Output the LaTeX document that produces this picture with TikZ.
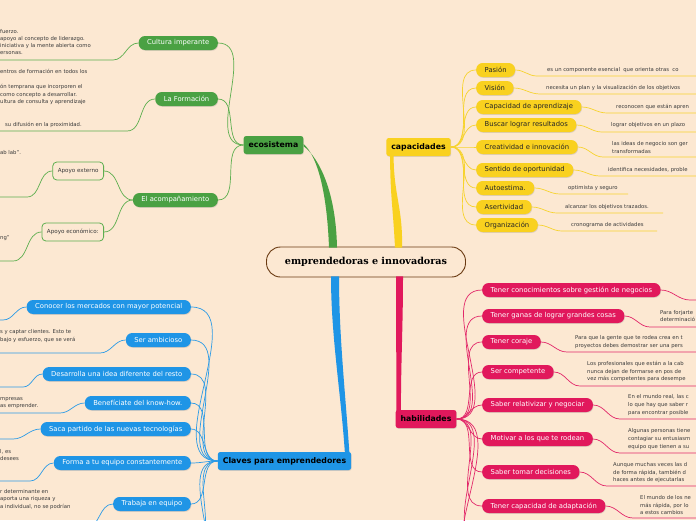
\documentclass[tikz,border=0pt]{standalone}
\usepackage{fontspec}
\setmainfont{DejaVu Sans}
\newfontfamily\rootfont{DejaVu Serif}
\usetikzlibrary{calc,shadows}

\definecolor{bgcol}{HTML}{FCE8D2}
\definecolor{ecogreen}{HTML}{4AA143}
\definecolor{ecoline}{HTML}{5DAE4F}
\definecolor{capyellow}{HTML}{F9D11F}
\definecolor{capline}{HTML}{F7D32E}
\definecolor{clavblue}{HTML}{1F95E6}
\definecolor{clavline}{HTML}{2C9BE6}
\definecolor{habpink}{HTML}{E1185C}
\definecolor{habline}{HTML}{E2286A}
\definecolor{rootbrown}{HTML}{6A3A12}
\definecolor{leaftext}{HTML}{3A3A3A}

\begin{document}
\begin{tikzpicture}[x=1pt, y=-1pt,
  lift/.style={drop shadow={shadow xshift=0.5pt, shadow yshift=-0.8pt, opacity=0.25}},
  rootbox/.style={draw=rootbrown, line width=0.9pt, rounded corners=14pt, fill=bgcol,
    minimum width=199pt, minimum height=30pt, font=\rootfont\bfseries\fontsize{9.6}{11}\selectfont},
  hub/.style={rounded corners=2.5pt, minimum height=18pt, inner xsep=5pt, inner ysep=0pt,
    font=\fontsize{7.8}{9}\selectfont\bfseries, text=black, lift},
  twig/.style={rounded corners=6.5pt, minimum height=14pt, inner xsep=8.5pt, inner ysep=0pt,
    font=\fontsize{6.8}{8}\selectfont, lift},
  ecotwig/.style={twig, fill=ecogreen, text=white, anchor=east},
  captwig/.style={twig, fill=capyellow, text=black!85, anchor=west},
  clavtwig/.style={twig, fill=clavblue, text=white, anchor=east},
  habtwig/.style={twig, fill=habpink, text=white, anchor=west},
  apoyo/.style={draw=ecoline, line width=0.8pt, rounded corners=4pt, fill=bgcol, anchor=east,
    minimum height=18pt, inner xsep=5pt, font=\fontsize{5.6}{7}\selectfont, text=leaftext},
  leaf/.style={inner sep=0pt, align=left, anchor=west, font=\fontsize{5.3}{7.6}\selectfont, text=leaftext},
  ecowire/.style={ecoline, line width=0.7pt},
  capwire/.style={capline, line width=0.7pt},
  clavwire/.style={clavline, line width=0.7pt},
  habwire/.style={habline, line width=0.7pt}]

  \useasboundingbox (0,0) rectangle (696,520);
  \clip (0,0) rectangle (696,520);
  \fill[bgcol] (0,0) rectangle (696,520);

  % centre and the four main topics
  \node[rootbox] (root) at (366,262) {emprendedoras e innovadoras};
  \node[hub, fill=ecogreen]  (eco)  at (273.5,145) {ecosistema};
  \node[hub, fill=capyellow] (cap)  at (418.5,147) {capacidades};
  \node[hub, fill=clavblue]  (clav) at (284.5,461) {Claves para emprendedores};
  \node[hub, fill=habpink]   (hab)  at (426,419)   {habilidades};

  % thick branches
  \fill[ecogreen] ($(root.north)+(-37,1)$) .. controls +(-2,-55) and +(14,12) .. ($(eco.east)+(0,-1)$)
    -- ($(eco.east)+(0,1.2)$) .. controls +(16,12) and +(-1,-55) .. ($(root.north)+(-29,1)$) -- cycle;
  \fill[capyellow] ($(root.north)+(29,1)$) .. controls +(-2,-40) and +(0,40) .. ($(cap.south west)+(4,-1)$)
    -- ($(cap.south west)+(7.5,-1)$) .. controls +(0,40) and +(1,-40) .. ($(root.north)+(36,1)$) -- cycle;
  \fill[clavblue] ($(root.south)+(-35,-1)$) .. controls +(0,60) and +(-4,-60) .. ($(clav.north east)+(-6.5,1)$)
    -- ($(clav.north east)+(-2,1)$) .. controls +(-4,-60) and +(0,60) .. ($(root.south)+(-27,-1)$) -- cycle;
  \fill[habpink] ($(root.south)+(30,-1)$) .. controls +(0,50) and +(0,-50) .. ($(hab.north west)+(1,1)$)
    -- ($(hab.north west)+(5.5,1)$) .. controls +(0,-50) and +(0,50) .. ($(root.south)+(37,-1)$) -- cycle;

  % ecosistema
  \node[ecotwig] (cult)  at (218,43)  {Cultura imperante};
  \node[ecotwig] (form)  at (218,99)  {La Formación};
  \node[ecotwig] (acomp) at (218,200) {El acompañamiento};
  \node[apoyo] (externo)   at (104,171) {Apoyo externo};
  \node[apoyo] (economico) at (104,232) {Apoyo económico:};

  % capacidades
  \node[captwig] (pasion)  at (476,70)  {Pasión};
  \node[captwig] (vision)  at (476,88)  {Visión};
  \node[captwig] (aprend)  at (476,107) {Capacidad de aprendizaje};
  \node[captwig] (result)  at (476,125) {Buscar lograr resultados};
  \node[captwig] (creat)   at (476,147) {Creatividad e innovación};
  \node[captwig] (oport)   at (476,170) {Sentido de oportunidad};
  \node[captwig] (autoest) at (476,188) {Autoestima.};
  \node[captwig] (asert)   at (476,207) {Asertividad};
  \node[captwig] (organ)   at (476,225) {Organización};

  % Claves para emprendedores
  \node[clavtwig] (conocer) at (191,307) {Conocer los mercados con mayor potencial};
  \node[clavtwig] (ambic)   at (191,340) {Ser ambicioso};
  \node[clavtwig] (desarr)  at (191,374) {Desarrolla una idea diferente del resto};
  \node[clavtwig] (know)    at (191,403) {Benefíciate del know-how.};
  \node[clavtwig] (saca)    at (191,429) {Saca partido de las nuevas tecnologías};
  \node[clavtwig] (forma)   at (191,463) {Forma a tu equipo constantemente};
  \node[clavtwig] (trabaja) at (191,504) {Trabaja en equipo};
  \coordinate (clavmore1) at (191,545);
  \coordinate (clavmore2) at (191,580);

  % habilidades
  \node[habtwig] (conoc)  at (482,290) {Tener conocimientos sobre gestión de negocios};
  \node[habtwig] (ganas)  at (482,316) {Tener ganas de lograr grandes cosas};
  \node[habtwig] (coraje) at (482,342) {Tener coraje};
  \node[habtwig] (compet) at (482,372) {Ser competente};
  \node[habtwig] (relat)  at (482,405) {Saber relativizar y negociar};
  \node[habtwig] (motiv)  at (482,439) {Motivar a los que te rodean};
  \node[habtwig] (decis)  at (482,472) {Saber tomar decisiones};
  \node[habtwig] (adapt)  at (482,506) {Tener capacidad de adaptación};
  \coordinate (habmore1) at (482,540);
  \coordinate (habmore2) at (482,575);

  % thin links
  \foreach \n in {cult,form,acomp} \draw[ecowire] (eco.west) to[out=180,in=0] (\n.east);
  \foreach \n in {externo,economico} \draw[ecowire] (acomp.west) to[out=180,in=0] (\n.east);
  \foreach \n in {pasion,vision,aprend,result,creat,oport,autoest,asert,organ}
    \draw[capwire] (cap.east) to[out=0,in=180] (\n.west);
  \foreach \n in {conocer,ambic,desarr,know,saca,forma,trabaja}
    \draw[clavwire] (clav.west) to[out=180,in=0] (\n.east);
  \foreach \n in {clavmore1,clavmore2} \draw[clavwire] (clav.west) to[out=180,in=0] (\n);
  \foreach \n in {conoc,ganas,coraje,compet,relat,motiv,decis,adapt}
    \draw[habwire] (hab.east) to[out=0,in=180] (\n.west);
  \foreach \n in {habmore1,habmore2} \draw[habwire] (hab.east) to[out=0,in=180] (\n);

  % underlines of the notes
  \foreach \n/\a/\y in {cult/113/60, form/127/131, externo/27/197, economico/13/261} {
    \coordinate (\n-u) at (\a,\y);
    \coordinate (\n-e) at (-5,\y);
    \draw[ecowire] (\n.west) to[out=180,in=0] (\n-u) -- (\n-e);
  }
  \foreach \n/\a/\y in {conocer/3/320, ambic/100/353, desarr/23/387, know/60/413,
      saca/13/439, forma/30/481, trabaja/86/528} {
    \coordinate (\n-u) at (\a,\y);
    \coordinate (\n-e) at (-5,\y);
    \draw[clavwire] (\n.west) to[out=180,in=0] (\n-u) -- (\n-e);
  }
  \foreach \n/\a/\b/\y in {pasion/537/700/76, vision/540/700/94, aprend/607/700/113,
      result/602/700/132, creat/603/700/157, oport/600/700/176, autoest/560/628/194,
      asert/557/663/213, organ/562/657/231} {
    \coordinate (\n-u) at (\a,\y);
    \coordinate (\n-e) at (\b,\y);
    \draw[capwire] (\n.east) to[out=0,in=180] (\n-u) -- (\n-e);
  }
  \foreach \n/\a/\y in {conoc/690/300, ganas/650/327, coraje/567/352, compet/580/386,
      relat/620/419, motiv/620/453, decis/607/486, adapt/633/518} {
    \coordinate (\n-u) at (\a,\y);
    \coordinate (\n-e) at (700,\y);
    \draw[habwire] (\n.east) to[out=0,in=180] (\n-u) -- (\n-e);
  }

  % notes, left side
  \node[leaf, font=\fontsize{5.3}{7}\selectfont] (cultnote) at (0,42.5)
    {fuerzo.\\apoyo al concepto de liderazgo.\\iniciativa y la mente abierta como\\ersonas.};
  \node[leaf, font=\fontsize{5.3}{7.5}\selectfont] (formnote) at (0,87)
    {entros de formación en todos los\\[7.5pt]ón temprana que incorporen el\\
     como concepto a desarrollar.\\ultura de consulta y aprendizaje};
  \node[leaf] (formnote2) at (5,125) {su difusión en la proximidad.};
  \node[leaf] (externonote) at (0,153) {ab lab".};
  \node[leaf] (economiconote) at (0,238) {ng"};
  \node[leaf] (ambicnote) at (0,336) {s y captar clientes. Esto te\\bajo y esfuerzo, que se verá};
  \node[leaf] (knownote) at (0,403) {mpresas\\as emprender.};
  \node[leaf] (formanote) at (0,455) {l, es\\desees};
  \node[leaf] (trabajanote) at (0,499.5)
    {r determinante en\\aporta una riqueza y\\a individual, no se podrían};

  % notes, right side
  \node[leaf] (pasionnote)  at (547,70)  {es un componente esencial\ \ que orienta otras\ \ co};
  \node[leaf] (visionnote)  at (546,88)  {necesita un plan y la visualización de los objetivos};
  \node[leaf] (aprendnote)  at (616,107) {reconocen que están apren};
  \node[leaf] (resultnote)  at (611,125) {lograr objetivos en un plazo};
  \node[leaf] (creatnote)   at (612,147.5) {las ideas de negocio son ger\\transformadas};
  \node[leaf] (oportnote)   at (608,170) {identifica necesidades, proble};
  \node[leaf] (autoestnote) at (568,188) {optimista y seguro};
  \node[leaf] (asertnote)   at (565,207) {alcanzar los objetivos trazados.};
  \node[leaf] (organnote)   at (571,225) {cronograma de actividades};

  \node[leaf] (ganasnote)  at (660,316) {Para forjarte\\determinació};
  \node[leaf] (corajenote) at (575,342)
    {Para que la gente que te rodea crea en t\\proyectos debes demostrar ser una pers};
  \node[leaf] (competnote) at (587,371.7)
    {Los profesionales que están a la cab\\nunca dejan de formarse en pos de\\vez más competentes para desempe};
  \node[leaf] (relatnote) at (628,405)
    {En el mundo real, las c\\lo que hay que saber r\\para encontrar posible};
  \node[leaf] (motivnote) at (628,439)
    {Algunas personas tiene\\contagiar su entusiasm\\equipo que tienen a su};
  \node[leaf] (decisnote) at (613,472.7)
    {Aunque muchas veces las d\\de forma rápida, también d\\haces antes de ejecutarlas};
  \node[leaf] (adaptnote) at (640,505.3)
    {El mundo de los ne\\más rápida, por lo\\a estos cambios};
\end{tikzpicture}
\end{document}
